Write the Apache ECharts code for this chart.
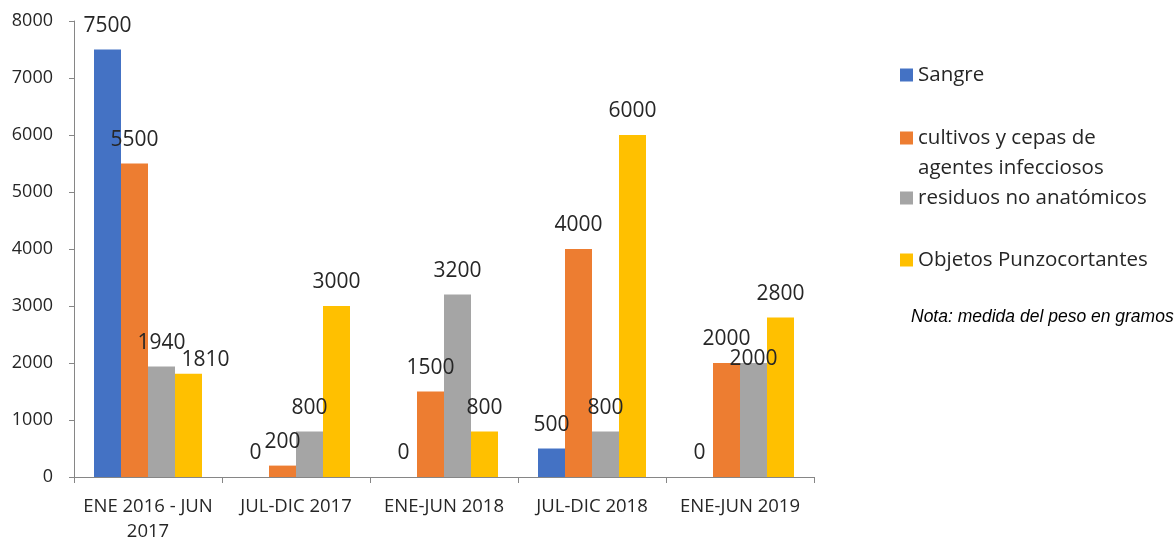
<!DOCTYPE html>
<html>
<head>
<meta charset="utf-8">
<script src="https://cdn.jsdelivr.net/npm/echarts@6/dist/echarts.min.js"></script>
<style>
  html, body { margin: 0; padding: 0; background: #fff; }
  #chart { width: 1174px; height: 538px; }
</style>
</head>
<body>
<div id="chart"></div>
<script>
  // periodos
  const categories = ['ENE 2016 - JUN\n2017', 'JUL-DIC 2017', 'ENE-JUN 2018', 'JUL-DIC 2018', 'ENE-JUN 2019']
  const seriesNames = ['Sangre', 'cultivos y cepas de agentes infecciosos', 'residuos no anatómicos', 'Objetos Punzocortantes']
  const sangre = [7500, 0, 0, 500, 0]
  const cultivos = [5500, 200, 1500, 4000, 2000]
  const residuos = [1940, 800, 3200, 800, 2000]
  const objetos = [1810, 3000, 800, 6000, 2800]
  const yTicks = [0, 8000, 1000]   // min, max, interval
  const colors = ['#4472C4', '#ED7D31', '#A5A5A5', '#FFC000']

  const font = 'Open Sans'
  const textColor = '#262626'

  // etiquetas movidas a mano en el original
  function withOffsets(values, offsets) {
    return values.map((v, i) => offsets[i] ? { value: v, label: { offset: offsets[i] } } : v)
  }

  function makeSeries(name, data, idx) {
    return {
      name: name,
      type: 'bar',
      barWidth: 27,
      barGap: '0%',
      data: data,
      itemStyle: { color: colors[idx] },
      label: {
        show: true,
        position: 'top',
        distance: 13,
        fontFamily: font,
        fontSize: 21,
        lineHeight: 21,
        color: textColor
      }
    }
  }

  function legendAt(name, top, extra) {
    return Object.assign({
      data: [name],
      orient: 'vertical',
      left: 900,
      top: top,
      padding: 0,
      itemWidth: 13,
      itemHeight: 13,
      itemGap: 0,
      icon: 'rect',
      selectedMode: false,
      textStyle: { fontFamily: font, fontSize: 20.5, lineHeight: 24, color: textColor }
    }, extra || {})
  }

  let myChart = echarts.init(document.getElementById('chart'))
  myChart.setOption({
    animation: false,
    color: colors,
    title: {
      text: 'Nota: medida del peso en gramos',
      left: 911,
      top: 307,
      padding: 0,
      textStyle: { fontFamily: 'Liberation Sans', fontStyle: 'italic', fontWeight: 'normal', fontSize: 17.5, lineHeight: 20, color: '#000' }
    },
    legend: [
      legendAt(seriesNames[0], 63),
      // primera línea vacía para que el cuadro quede junto a la primera línea de texto
      legendAt(seriesNames[1], 93, {
        formatter: () => ' \ncultivos y cepas de\nagentes infecciosos',
        textStyle: { fontFamily: font, fontSize: 20.5, lineHeight: 30, color: textColor }
      }),
      legendAt(seriesNames[2], 186),
      legendAt(seriesNames[3], 248)
    ],
    grid: {
      left: 74,
      right: 360,
      top: 21,
      bottom: 61,
      outerBoundsMode: 'none'
    },
    xAxis: {
      type: 'category',
      data: categories,
      axisLine: { lineStyle: { color: '#868686', width: 1 } },
      axisTick: { show: true, length: 6, lineStyle: { color: '#868686' } },
      axisLabel: {
        fontFamily: font,
        fontSize: 18.5,
        lineHeight: 25,
        margin: 17,
        color: textColor,
        interval: 0
      }
    },
    yAxis: {
      type: 'value',
      min: yTicks[0],
      max: yTicks[1],
      interval: yTicks[2],
      splitLine: { show: false },
      axisLine: { show: true, lineStyle: { color: '#868686', width: 1 } },
      axisTick: { show: true, length: 5, lineStyle: { color: '#868686' } },
      axisLabel: {
        fontFamily: font,
        fontSize: 18,
        margin: 21,
        color: textColor,
        formatter: v => String(v)
      }
    },
    series: [
      makeSeries(seriesNames[0], sangre, 0),
      makeSeries(seriesNames[1], cultivos, 1),
      makeSeries(seriesNames[2], withOffsets(residuos, { 4: [0, 20] }), 2),
      makeSeries(seriesNames[3], withOffsets(objetos, { 0: [17, 10] }), 3)
    ]
  })
</script>
</body>
</html>
